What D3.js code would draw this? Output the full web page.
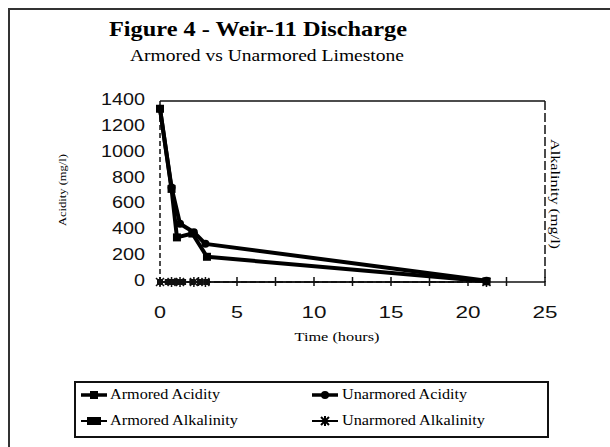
<!DOCTYPE html>
<html><head><meta charset="utf-8">
<script src="https://cdn.jsdelivr.net/npm/d3@7"></script>
<style>body{margin:0;background:#fff}svg{display:block}</style>
</head><body>
<svg id="c" width="610" height="447"></svg>
<script>
// ---- data ----
const xTicks = [0, 5, 10, 15, 20, 25];
const yTicks = [0, 200, 400, 600, 800, 1000, 1200, 1400];
const armoredAcidityT = [0, 0.75, 1.1, 2.1, 3.05, 21.2];
const armoredAcidityV = [1340, 720, 345, 375, 195, 5];
const unarmoredAcidityT = [0, 0.75, 1.3, 2.2, 2.95, 21.2];
const unarmoredAcidityV = [1340, 730, 450, 385, 295, 10];
const armoredAlkalinityT = [0, 0.5, 0.75, 1.1, 1.5, 2.1, 2.6, 3.05, 21.2];
const armoredAlkalinityV = [0, 0, 0, 0, 0, 0, 0, 0, 0];
const unarmoredAlkalinityT = [0, 0.75, 1.3, 2.2, 2.95, 21.2];
const unarmoredAlkalinityV = [0, 0, 0, 0, 0, 0];
const seriesNames = ["Armored Acidity", "Unarmored Acidity", "Armored Alkalinity", "Unarmored Alkalinity"];

const svg = d3.select("#c");
const serif = "'Liberation Serif','Times New Roman',serif";
const sans = "'Liberation Sans',Arial,sans-serif";

function fit(sel, w) {
  sel.each(function(){ this.setAttribute("textLength", w); this.setAttribute("lengthAdjust", "spacingAndGlyphs"); });
  return sel;
}

// outer frame
svg.append("rect").attr("x", 9).attr("y", 9).attr("width", 640).attr("height", 480)
  .attr("fill", "none").attr("stroke", "#333").attr("stroke-width", 2);

// titles
fit(svg.append("text").attr("x", 109).attr("y", 36).attr("font-family", serif).attr("font-weight", "bold")
  .attr("font-size", 21).text("Figure 4 - Weir-11 Discharge"), 298);
fit(svg.append("text").attr("x", 130).attr("y", 61).attr("font-family", serif)
  .attr("font-size", 16).text("Armored vs Unarmored Limestone"), 274);

const x = d3.scaleLinear().domain([0, 25]).range([160, 545]);
const y = d3.scaleLinear().domain([0, 1400]).range([282, 101]);
const y2 = d3.scaleLinear().domain([0, 1400]).range([282, 101]);

// frame lines
svg.append("line").attr("x1", x(0)).attr("x2", x(25)).attr("y1", y(1400)).attr("y2", y(1400))
  .attr("stroke", "#111").attr("stroke-width", 1.5);
svg.append("line").attr("x1", x(0)).attr("x2", x(0)).attr("y1", y(1400)).attr("y2", y(0))
  .attr("stroke", "#111").attr("stroke-width", 1.5).attr("stroke-dasharray", "5,3");
svg.append("line").attr("x1", x(25)).attr("x2", x(25)).attr("y1", y(1400)).attr("y2", y(0))
  .attr("stroke", "#111").attr("stroke-width", 1.5).attr("stroke-dasharray", "9,3");

// x axis
svg.append("line").attr("x1", x(0)).attr("x2", x(25)).attr("y1", y(0)).attr("y2", y(0))
  .attr("stroke", "#111").attr("stroke-width", 1.5);
svg.selectAll(".xt").data(d3.range(0, 25.01, 2.5)).enter().append("line")
  .attr("x1", d => x(d)).attr("x2", d => x(d)).attr("y1", y(0) - 5).attr("y2", y(0) + 4)
  .attr("stroke", "#111").attr("stroke-width", 1.5);
svg.selectAll(".xl").data(xTicks).enter().append("text")
  .attr("x", d => x(d)).attr("y", 318).attr("text-anchor", "middle")
  .attr("font-family", sans).attr("font-size", 17).attr("fill", "#111").text(d => d)
  .each(function(d){ const w = String(d).length === 1 ? 12 : 25; this.setAttribute("textLength", w); this.setAttribute("lengthAdjust", "spacingAndGlyphs"); });

// y axis labels
svg.selectAll(".yl").data(yTicks).enter().append("text")
  .attr("x", 145).attr("y", d => y(d) + 4).attr("text-anchor", "end")
  .attr("font-family", sans).attr("font-size", 16).attr("fill", "#111").text(d => d)
  .each(function(d){ const w = String(d).length * 11; this.setAttribute("textLength", w); this.setAttribute("lengthAdjust", "spacingAndGlyphs"); });

// axis titles
fit(svg.append("text").attr("transform", "translate(66,190) rotate(-90)").attr("text-anchor", "middle")
  .attr("font-family", serif).attr("font-size", 11).text("Acidity (mg/l)"), 72);
fit(svg.append("text").attr("transform", "translate(551,194) rotate(90)").attr("text-anchor", "middle")
  .attr("font-family", serif).attr("font-size", 12).text("Alkalinity (mg/l)"), 110);
fit(svg.append("text").attr("x", 337).attr("y", 341).attr("text-anchor", "middle")
  .attr("font-family", serif).attr("font-size", 13).text("Time (hours)"), 85);

// series
function pts(T, V, sc) { return T.map((t, i) => [x(t), sc(V[i])]); }
const line = d3.line();

function drawAlk(T, V, dash, width) {
  svg.append("path").attr("d", line(pts(T, V, y2))).attr("fill", "none").attr("stroke", "#111")
    .attr("stroke-width", width).attr("stroke-dasharray", dash);
}
drawAlk(unarmoredAlkalinityT, unarmoredAlkalinityV, "6,3", 2);
drawAlk(armoredAlkalinityT, armoredAlkalinityV, null, 1.5);
// armored alkalinity squares
svg.selectAll(".aak").data(pts(armoredAlkalinityT, armoredAlkalinityV, y2)).enter().append("rect")
  .attr("x", d => d[0] - 3).attr("y", d => d[1] - 3).attr("width", 6).attr("height", 6).attr("fill", "#111");
// unarmored alkalinity stars
svg.selectAll(".uak").data(pts(unarmoredAlkalinityT, unarmoredAlkalinityV, y2)).enter().append("path")
  .attr("transform", d => `translate(${d[0]},${d[1]})`)
  .attr("d", "M-4,-4L4,4M-4,4L4,-4M0,-5V5").attr("stroke", "#111").attr("stroke-width", 1.5);

function drawAcid(T, V, marker) {
  svg.append("path").attr("d", line(pts(T, V, y))).attr("fill", "none").attr("stroke", "#000")
    .attr("stroke-width", 4).attr("stroke-linejoin", "round");
  const p = pts(T, V, y);
  if (marker === "square") {
    svg.selectAll(null).data(p).enter().append("rect")
      .attr("x", d => d[0] - 4).attr("y", d => d[1] - 4).attr("width", 8).attr("height", 8).attr("fill", "#000");
  } else {
    svg.selectAll(null).data(p).enter().append("circle")
      .attr("cx", d => d[0]).attr("cy", d => d[1]).attr("r", 4).attr("fill", "#000");
  }
}
drawAcid(armoredAcidityT, armoredAcidityV, "square");
drawAcid(unarmoredAcidityT, unarmoredAcidityV, "circle");

// legend
svg.append("rect").attr("x", 75).attr("y", 382).attr("width", 473).attr("height", 55)
  .attr("fill", "none").attr("stroke", "#111").attr("stroke-width", 2);
const legPos = [[81, 395], [312, 395], [81, 421], [312, 421]];
const legW = [110, 125, 128, 143];
seriesNames.forEach((name, i) => {
  const [lx, ly] = legPos[i];
  const g = svg.append("g");
  if (i < 2) {
    g.append("line").attr("x1", lx).attr("x2", lx + 26).attr("y1", ly).attr("y2", ly)
      .attr("stroke", "#000").attr("stroke-width", 3.5);
    if (i === 0) g.append("rect").attr("x", lx + 9).attr("y", ly - 4).attr("width", 8).attr("height", 8).attr("fill", "#000");
    else g.append("circle").attr("cx", lx + 13).attr("cy", ly).attr("r", 4).attr("fill", "#000");
  } else if (i === 2) {
    g.append("line").attr("x1", lx).attr("x2", lx + 26).attr("y1", ly).attr("y2", ly)
      .attr("stroke", "#000").attr("stroke-width", 2);
    g.append("rect").attr("x", lx + 6).attr("y", ly - 4).attr("width", 14).attr("height", 8).attr("fill", "#000");
  } else {
    g.append("line").attr("x1", lx).attr("x2", lx + 26).attr("y1", ly).attr("y2", ly)
      .attr("stroke", "#000").attr("stroke-width", 2);
    g.append("path").attr("transform", `translate(${lx + 13},${ly})`)
      .attr("d", "M-4,-4L4,4M-4,4L4,-4M0,-5V5").attr("stroke", "#000").attr("stroke-width", 2);
  }
  fit(g.append("text").attr("x", i % 2 === 0 ? 110 : 342).attr("y", ly + 4)
    .attr("font-family", serif).attr("font-size", 14).text(name), legW[i]);
});
</script>
</body></html>
